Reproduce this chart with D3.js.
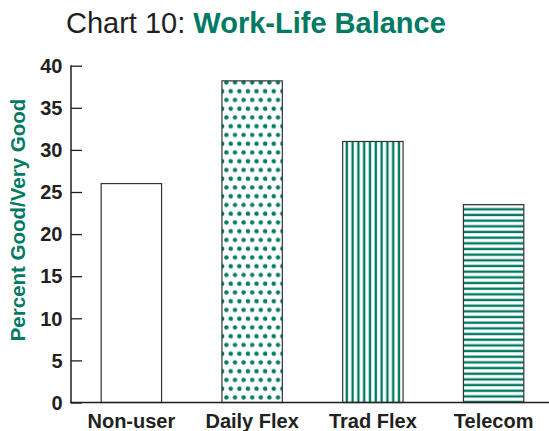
<!DOCTYPE html>
<html>
<head>
<meta charset="utf-8">
<script src="https://cdn.jsdelivr.net/npm/d3@7"></script>
<style>
  html, body { margin: 0; padding: 0; background: #fff; }
  svg { display: block; }
</style>
</head>
<body>
<svg id="chart" width="549" height="431"></svg>
<script>
const categories = ["Non-user", "Daily Flex", "Trad Flex", "Telecom"];
const values = [26, 38.2, 31, 23.5];
const fills = ["none", "dots", "vstripes", "hstripes"];
const yTicks = [0, 5, 10, 15, 20, 25, 30, 35, 40];
const titlePlain = "Chart 10: ";
const titleBold = "Work-Life Balance";
const yLabel = "Percent Good/Very Good";

const green = "#007a63";
const ink = "#231f20";
const font = "Liberation Sans, Arial, Helvetica, sans-serif";
const svg = d3.select("#chart");
const W = 549, H = 431;

const x = d3.scaleBand().domain(categories).range([71, 554]).paddingInner(0.5).paddingOuter(0.25);
const y = d3.scaleLinear().domain([0, 40]).range([402.5, 65.7]);

// patterns
const defs = svg.append("defs");
const pd = defs.append("pattern").attr("id", "dots").attr("patternUnits", "userSpaceOnUse")
  .attr("width", 8.6).attr("height", 17.5).attr("x", 224).attr("y", 80);
pd.append("rect").attr("width", 8.6).attr("height", 17.5).attr("fill", "#fff");
pd.append("circle").attr("cx", 2.4).attr("cy", 2.4).attr("r", 2.2).attr("fill", green);
pd.append("circle").attr("cx", 6.7).attr("cy", 11.2).attr("r", 2.2).attr("fill", green);
pd.append("circle").attr("cx", -1.9).attr("cy", 11.2).attr("r", 2.2).attr("fill", green);
pd.append("circle").attr("cx", 10.9).attr("cy", 2.4).attr("r", 2.2).attr("fill", green);

const pv = defs.append("pattern").attr("id", "vstripes").attr("patternUnits", "userSpaceOnUse")
  .attr("width", 5.8).attr("height", 10).attr("x", 344).attr("y", 0);
pv.append("rect").attr("width", 5.8).attr("height", 10).attr("fill", "#fff");
pv.append("rect").attr("x", 1.6).attr("width", 2.4).attr("height", 10).attr("fill", green);

const ph = defs.append("pattern").attr("id", "hstripes").attr("patternUnits", "userSpaceOnUse")
  .attr("width", 10).attr("height", 5.67).attr("x", 0).attr("y", 207.5);
ph.append("rect").attr("width", 10).attr("height", 5.67).attr("fill", "#fff");
ph.append("rect").attr("y", 0.6).attr("width", 10).attr("height", 2.4).attr("fill", green);

// title
const title = svg.append("text").attr("x", 66).attr("y", 33).attr("text-anchor", "start")
  .attr("font-family", font).attr("font-size", 29);
title.append("tspan").attr("fill", ink).text(titlePlain);
title.append("tspan").attr("fill", green).attr("font-weight", "bold").text(titleBold);

// bars
svg.append("g").selectAll("rect").data(categories).join("rect")
  .attr("x", d => x(d))
  .attr("y", (d, i) => y(values[i]))
  .attr("width", x.bandwidth())
  .attr("height", (d, i) => y(0) - y(values[i]))
  .attr("fill", (d, i) => fills[i] === "none" ? "#fff" : `url(#${fills[i]})`)
  .attr("stroke", "#333").attr("stroke-width", 1.2);

// y axis
const yAxis = d3.axisRight(y).tickValues(yTicks).tickSize(11).tickFormat("");
const gy = svg.append("g").attr("transform", "translate(71,0)").call(yAxis);
gy.select(".domain").remove();
gy.selectAll(".tick line").attr("stroke", ink).attr("stroke-width", 1.3);
svg.append("line").attr("x1", 71).attr("x2", 71).attr("y1", y(40) - 0.5).attr("y2", y(0))
  .attr("stroke", ink).attr("stroke-width", 1.5);
svg.append("g").selectAll("text").data(yTicks).join("text")
  .attr("x", 62.5).attr("y", d => y(d)).attr("dy", "0.36em").attr("text-anchor", "end")
  .attr("font-family", font).attr("font-weight", "bold")
  .attr("font-size", 20).attr("fill", ink).text(d => d);

// x axis
const xAxis = d3.axisBottom(x).tickSize(0).tickPadding(0);
const gx = svg.append("g").attr("transform", `translate(0,${y(0)})`).call(xAxis);
gx.select(".domain").remove();
gx.selectAll("text").attr("font-family", font).attr("font-weight", "bold")
  .attr("font-size", 20).attr("fill", ink).attr("y", 25).attr("dy", null);
svg.append("line").attr("x1", 70).attr("x2", W).attr("y1", y(0)).attr("y2", y(0))
  .attr("stroke", ink).attr("stroke-width", 1.5);

// y label
svg.append("text").attr("transform", `translate(25,220) rotate(-90)`).attr("text-anchor", "middle")
  .attr("font-family", font).attr("font-weight", "bold")
  .attr("font-size", 20.5).attr("fill", green).text(yLabel);
</script>
</body>
</html>
